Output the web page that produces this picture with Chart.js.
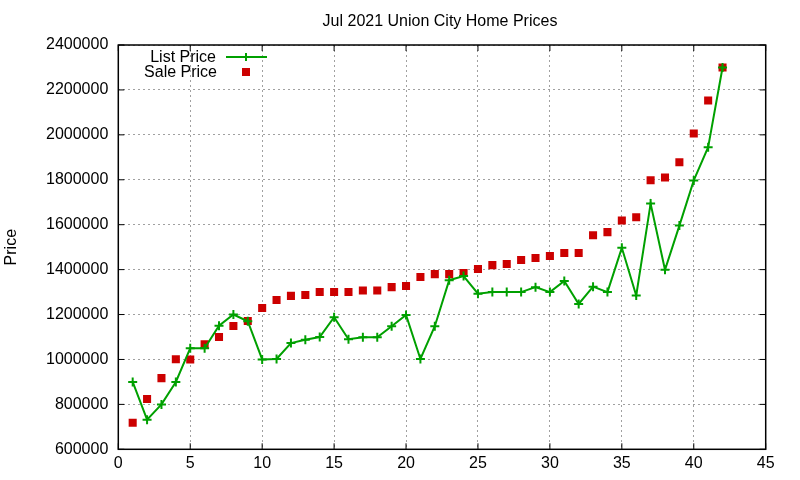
<!DOCTYPE html>
<html><head><meta charset="utf-8">
<script src="https://cdn.jsdelivr.net/npm/chart.js@4.4.1/dist/chart.umd.min.js"></script>
<style>html,body{margin:0;padding:0;background:#fff}canvas{display:block}</style>
</head><body>
<canvas id="c" width="800" height="480" style="width:800px;height:480px"></canvas>
<script>
const homeIndex = [1,2,3,4,5,6,7,8,9,10,11,12,13,14,15,16,17,18,19,20,21,22,23,24,25,26,27,28,29,30,31,32,33,34,35,36,37,38,39,40,41,42];
const listPrice = [900000,732000,800000,900000,1050000,1050000,1150000,1200000,1170000,1000000,1002000,1073000,1088000,1100000,1188000,1090000,1099000,1099000,1148000,1198000,1002000,1148000,1353000,1371000,1293000,1300000,1300000,1300000,1322000,1300000,1349000,1247000,1324000,1300000,1497000,1285000,1694000,1399000,1596000,1797000,1945000,2300000];
const salePrice = [718000,824000,917000,1001000,1000000,1068000,1100000,1149000,1171000,1229000,1265000,1283000,1287000,1300000,1300000,1300000,1307000,1307000,1322000,1327000,1367000,1380000,1380000,1385000,1403000,1420000,1425000,1443000,1452000,1461000,1474000,1474000,1553000,1567000,1619000,1633000,1798000,1810000,1878000,2006000,2153000,2300000];
const chartTitle = 'Jul 2021 Union City Home Prices';
const yTitle = 'Price';
const seriesNames = ['List Price', 'Sale Price'];

const GREEN = '#00a000', RED = '#cc0000';
const FONT = "'Liberation Sans', Arial, sans-serif";

const boxPlugin = {
  id: 'gnuBox',
  afterDraw(chart) {
    const {ctx, chartArea: a, scales: {x, y}} = chart;
    ctx.save();
    ctx.strokeStyle = '#000';
    ctx.lineWidth = 1.5;
    ctx.strokeRect(a.left, a.top, a.right - a.left, a.bottom - a.top);
    ctx.lineWidth = 1;
    ctx.beginPath();
    x.ticks.forEach(t => {
      const px = x.getPixelForValue(t.value);
      ctx.moveTo(px, a.bottom); ctx.lineTo(px, a.bottom - 6);
      ctx.moveTo(px, a.top); ctx.lineTo(px, a.top + 6);
    });
    y.ticks.forEach(t => {
      const py = y.getPixelForValue(t.value);
      ctx.moveTo(a.left, py); ctx.lineTo(a.left + 6, py);
      ctx.moveTo(a.right, py); ctx.lineTo(a.right - 6, py);
    });
    ctx.stroke();
    ctx.font = '16px ' + FONT;
    ctx.fillStyle = '#000';
    ctx.textBaseline = 'middle';
    // title
    ctx.textAlign = 'center';
    ctx.fillText(chartTitle, 440, 22);
    // legend (gnuplot style)
    ctx.textAlign = 'right';
    ctx.fillText(seriesNames[0], 216, 57.5);
    ctx.fillText(seriesNames[1], 217, 72.5);
    ctx.strokeStyle = GREEN;
    ctx.lineWidth = 2;
    ctx.beginPath();
    ctx.moveTo(226, 57); ctx.lineTo(267, 57);
    ctx.moveTo(246, 53); ctx.lineTo(246, 61);
    ctx.stroke();
    ctx.fillStyle = RED;
    ctx.fillRect(242, 68, 8, 8);
    ctx.restore();
  }
};

new Chart(document.getElementById('c'), {
  type: 'line',
  data: {
    datasets: [
      {
        label: seriesNames[0],
        data: homeIndex.map((v, i) => ({x: v, y: listPrice[i]})),
        borderColor: GREEN, backgroundColor: GREEN,
        borderWidth: 2, tension: 0, fill: false,
        pointStyle: 'cross', pointRadius: 4.5, pointBorderWidth: 2,
        pointBorderColor: GREEN
      },
      {
        label: seriesNames[1],
        data: homeIndex.map((v, i) => ({x: v, y: salePrice[i]})),
        showLine: false,
        borderColor: RED, backgroundColor: RED,
        pointStyle: 'rect', pointRadius: 5.7, pointBorderWidth: 0
      }
    ]
  },
  options: {
    responsive: false,
    animation: false,
    devicePixelRatio: 1,
    layout: {padding: {left: 0, right: 34.3, top: 45, bottom: 0}},
    plugins: {
      legend: {display: false},
      tooltip: {enabled: false},
      title: {display: false}
    },
    scales: {
      x: {
        type: 'linear', min: 0, max: 45,
        ticks: {stepSize: 5, color: '#000', font: {family: FONT, size: 16}, padding: 5, maxRotation: 0},
        grid: {color: '#a0a0a0', lineWidth: 1, drawTicks: false},
        border: {display: false, dash: [2, 3]},
        afterFit(s) { s.height = 30.7; }
      },
      y: {
        type: 'linear', min: 600000, max: 2400000,
        ticks: {stepSize: 200000, color: '#000', font: {family: FONT, size: 16}, padding: 10,
          callback: v => String(v)},
        grid: {color: '#a0a0a0', lineWidth: 1, drawTicks: false},
        border: {display: false, dash: [2, 3]},
        title: {display: true, text: yTitle, color: '#000', font: {family: FONT, size: 16}, padding: {top: 2, bottom: 0}},
        afterFit(s) { s.width = 118.3; }
      }
    }
  },
  plugins: [boxPlugin]
});
</script>
</body></html>
